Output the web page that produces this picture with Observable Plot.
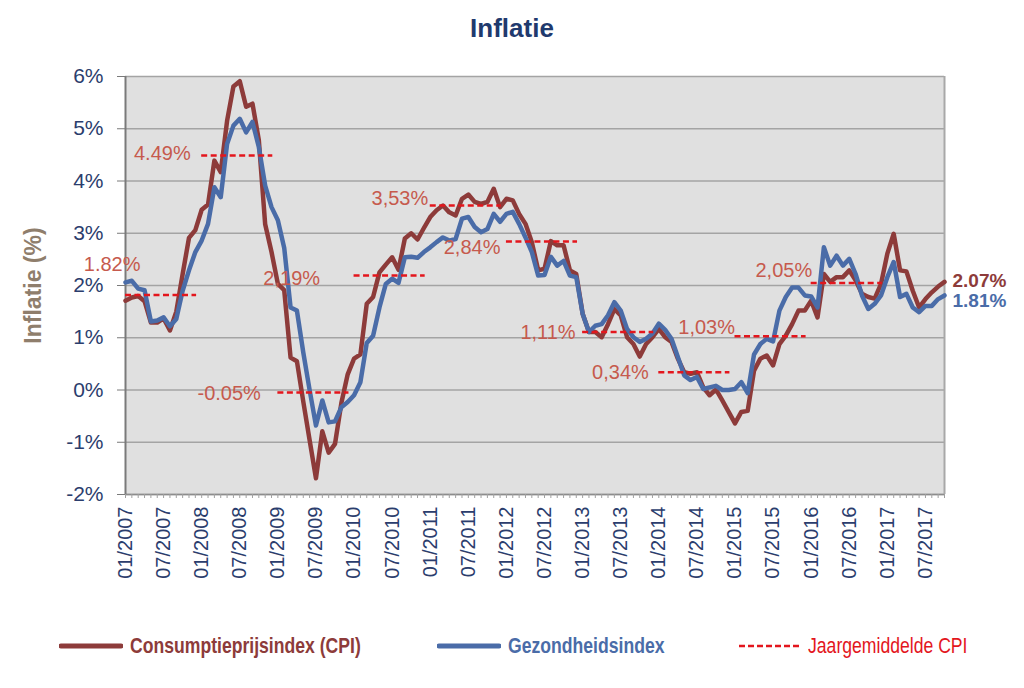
<!DOCTYPE html>
<html>
<head>
<meta charset="utf-8">
<script src="https://cdn.jsdelivr.net/npm/d3@7"></script>
<script src="https://cdn.jsdelivr.net/npm/@observablehq/plot@0.6"></script>
<style>
  body { margin: 0; background: #fff; width: 1024px; height: 688px; overflow: hidden; position: relative;
         font-family: "Liberation Sans", Arial, sans-serif; }
  #title { position: absolute; top: 13px; left: 0; width: 1024px; text-align: center; font-weight: bold;
           font-size: 26px; line-height: 30px; color: #1f3a6e; }
  #chart { position: absolute; top: 50px; left: 0; }
  .item { position: absolute; top: 633px; height: 26px; display: flex; align-items: center; }
  .lab { display: inline-block; transform: scaleX(0.8); transform-origin: left center; font-size: 22px;
         white-space: nowrap; line-height: 26px; }
</style>
</head>
<body>
<div id="title">Inflatie</div>
<div id="chart"></div>
<div id="legend"></div>
<script>
// ---- data ----
const startYear = 2007;
const cpi = [
  1.71, 1.77, 1.80, 1.70, 1.29, 1.29, 1.37, 1.14, 1.50, 2.22, 2.91, 3.06,
  3.45, 3.55, 4.39, 4.17, 5.15, 5.81, 5.91, 5.42, 5.48, 4.78, 3.17, 2.64,
  2.03, 1.91, 0.62, 0.55, -0.22, -0.96, -1.69, -0.79, -1.20, -1.03, -0.25, 0.30,
  0.60, 0.68, 1.65, 1.78, 2.25, 2.40, 2.54, 2.30, 2.90, 3.00, 2.88, 3.10,
  3.31, 3.44, 3.53, 3.40, 3.34, 3.66, 3.74, 3.60, 3.56, 3.60, 3.85, 3.50,
  3.66, 3.63, 3.37, 3.18, 2.83, 2.29, 2.32, 2.85, 2.77, 2.77, 2.29, 2.22,
  1.46, 1.11, 1.11, 1.01, 1.26, 1.55, 1.43, 1.01, 0.88, 0.64, 0.88, 1.01,
  1.17, 1.01, 0.92, 0.60, 0.34, 0.31, 0.34, 0.05, -0.10, 0.01, -0.20, -0.42,
  -0.64, -0.42, -0.40, 0.37, 0.60, 0.66, 0.47, 0.88, 1.04, 1.26, 1.52, 1.52,
  1.71, 1.39, 2.22, 2.07, 2.16, 2.16, 2.29, 2.10, 1.84, 1.78, 1.75, 2.03,
  2.61, 2.99, 2.29, 2.27, 1.90, 1.58, 1.74, 1.87, 1.98, 2.07
];
const health = [
  2.06, 2.09, 1.94, 1.91, 1.31, 1.33, 1.39, 1.22, 1.36, 1.90, 2.29, 2.64,
  2.86, 3.18, 3.88, 3.69, 4.71, 5.06, 5.19, 4.93, 5.13, 4.65, 3.91, 3.50,
  3.25, 2.72, 1.58, 1.52, 0.72, 0.00, -0.68, -0.20, -0.62, -0.60, -0.33, -0.23,
  -0.10, 0.15, 0.90, 1.04, 1.58, 2.03, 2.13, 2.05, 2.54, 2.55, 2.53, 2.64,
  2.73, 2.83, 2.92, 2.86, 2.89, 3.28, 3.31, 3.12, 3.02, 3.08, 3.37, 3.22,
  3.37, 3.41, 3.18, 2.92, 2.64, 2.19, 2.20, 2.55, 2.38, 2.47, 2.19, 2.16,
  1.46, 1.11, 1.23, 1.26, 1.43, 1.68, 1.52, 1.17, 1.01, 0.92, 0.98, 1.08,
  1.27, 1.15, 0.98, 0.63, 0.28, 0.19, 0.25, 0.02, 0.05, 0.08, 0.00, 0.00,
  0.02, 0.15, -0.06, 0.68, 0.88, 0.98, 0.93, 1.52, 1.78, 1.96, 1.96, 1.81,
  1.79, 1.58, 2.73, 2.38, 2.57, 2.38, 2.51, 2.22, 1.81, 1.55, 1.65, 1.81,
  2.16, 2.45, 1.78, 1.84, 1.58, 1.49, 1.61, 1.61, 1.74, 1.81
];
const avgYears = [2007, 2008, 2009, 2010, 2011, 2012, 2013, 2014, 2015, 2016];
const avgValues = [1.82, 4.49, -0.05, 2.19, 3.53, 2.84, 1.11, 0.34, 1.03, 2.05];
const avgLabels = ["1.82%", "4.49%", "-0.05%", "2,19%", "3,53%", "2,84%", "1,11%", "0,34%", "1,03%", "2,05%"];
const yTicks = [-2, -1, 0, 1, 2, 3, 4, 5, 6];
const seriesNames = ["Consumptieprijsindex (CPI)", "Gezondheidsindex", "Jaargemiddelde CPI"];
const titleText = "Inflatie";
const yTitle = "Inflatie (%)";

// ---- styles ----
const C_CPI = "#8d3b3a", C_HEALTH = "#4a6ca8", C_AVG = "#e3161d", C_NOTE = "#c65a4d";
const C_AXIS = "#2b3d6d";
const FONT = '"Liberation Sans", Arial, sans-serif';
// label offsets (px) relative to the start of each dashed line
const noteDx = [15, -11, -17, -34, -2, -6, -7, -10, 0, 1];
const noteDy = [-30, -2, 1, 3, -7, 6, 1, 0, -9, -12];

const n = cpi.length;
const monthLabel = i => String(i % 12 + 1).padStart(2, "0") + "/" + (startYear + Math.floor(i / 12));
const cpiRows = cpi.map((v, i) => ({i, v}));
const healthRows = health.map((v, i) => ({i, v}));
const avgRows = avgYears.map((y, k) => ({start: (y - startYear) * 12, value: avgValues[k], label: avgLabels[k], dx: noteDx[k], dy: noteDy[k]}));

const marks = [
  Plot.frame({fill: "#e0e0e0", stroke: null}),
  Plot.gridY(yTicks, {stroke: "#a4a4a4", strokeOpacity: 1, strokeWidth: 1.3}),
  Plot.ruleY([-2], {stroke: "#8c8c8c", strokeWidth: 1.6}),
  Plot.ruleX([n - 1], {stroke: "#a8a8a8", strokeWidth: 2}),
  Plot.ruleX([0], {stroke: "#7a7a7a", strokeWidth: 2}),
  Plot.axisY({ticks: yTicks, tickSize: 8, tickPadding: 14, tickFormat: d => d + "%", fontSize: 21,
              fill: C_AXIS, stroke: "#7a7a7a", label: null}),
  Plot.axisX({ticks: d3.range(0, n), tickSize: 4, tickFormat: () => "", stroke: "#a0a0a0", label: null}),
  Plot.axisX({ticks: d3.range(0, n, 6), tickSize: 0, tickPadding: 12, tickRotate: -90, tickFormat: monthLabel,
              fontSize: 20, fill: C_AXIS, label: null}),
  Plot.line(cpiRows, {x: "i", y: "v", stroke: C_CPI, strokeWidth: 4.5, strokeLinejoin: "round", strokeLinecap: "round"}),
  Plot.line(healthRows, {x: "i", y: "v", stroke: C_HEALTH, strokeWidth: 4.5, strokeLinejoin: "round", strokeLinecap: "round"}),
  Plot.ruleY(avgRows, {x1: "start", x2: d => d.start + 11.2, y: "value", stroke: C_AVG, strokeWidth: 2.5, strokeDasharray: "6,3.5"}),
  ...avgRows.map(d => Plot.text([d], {x: "start", y: "value", text: "label", textAnchor: "end", dx: d.dx, dy: d.dy,
              fontSize: 20, fill: C_NOTE})),
  Plot.text([cpiRows[n - 1]], {x: "i", y: "v", text: d => d.v.toFixed(2) + "%", textAnchor: "start", dx: 8, dy: -1,
              fontSize: 19, fontWeight: "bold", fill: C_CPI}),
  Plot.text([healthRows[n - 1]], {x: "i", y: "v", text: d => d.v.toFixed(2) + "%", textAnchor: "start", dx: 8, dy: 5,
              fontSize: 19, fontWeight: "bold", fill: C_HEALTH}),
  Plot.text([yTitle], {frameAnchor: "left", textAnchor: "middle", dx: -92, rotate: -90, fontSize: 23, fontWeight: "bold", fill: "#8f7e6c"})
];

const chart = Plot.plot({
  width: 1024, height: 560,
  marginLeft: 125, marginRight: 80, marginTop: 26, marginBottom: 116,
  style: {fontFamily: FONT, background: "transparent", overflow: "visible"},
  x: {type: "linear", domain: [0, n - 1]},
  y: {domain: [-2, 6]},
  marks
});
document.getElementById("chart").append(chart);
document.getElementById("title").textContent = titleText;

// ---- legend ----
const legendItems = [
  {name: seriesNames[0], color: C_CPI, left: 59, dash: null, bold: true, width: 5},
  {name: seriesNames[1], color: C_HEALTH, left: 437, dash: null, bold: true, width: 5},
  {name: seriesNames[2], color: C_AVG, left: 737, dash: "6,3", bold: false, width: 2.5}
];
const legend = document.getElementById("legend");
for (const it of legendItems) {
  const div = document.createElement("div");
  div.className = "item";
  div.style.left = it.left + "px";
  div.innerHTML = `<svg width="64" height="12" style="margin-right:7px"><line x1="2" x2="62" y1="6" y2="6" stroke="${it.color}" stroke-width="${it.width}" stroke-linecap="${it.dash ? "butt" : "round"}" ${it.dash ? `stroke-dasharray="${it.dash}"` : ""}/></svg><span class="lab" style="color:${it.color};font-weight:${it.bold ? "bold" : "normal"}">${it.name}</span>`;
  legend.append(div);
}
</script>
</body>
</html>
